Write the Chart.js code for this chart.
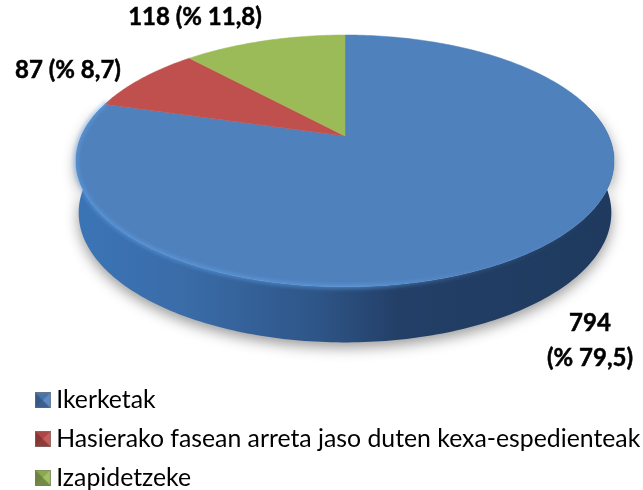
<!DOCTYPE html>
<html>
<head>
<meta charset="utf-8">
<script src="https://cdn.jsdelivr.net/npm/chart.js@4"></script>
<style>
  html, body { margin: 0; background: #fff; overflow: hidden; }
  canvas { display: block; }
</style>
</head>
<body>
<canvas id="chart" width="643" height="490"></canvas>
<script>
const categories = ['Ikerketak', 'Hasierako fasean arreta jaso duten kexa-espedienteak', 'Izapidetzeke']
const values = [794, 87, 118]
const valueLabels = [['794', '(% 79,5)'], ['87 (% 8,7)'], ['118 (% 11,8)']]
const labelCenters = [[590, 323], [68, 70], [195, 17]]
const colors = ['#4f81bd', '#c0504d', '#9bbb59']

// perspektiba: disko unitarioa -> pantaila
const apex = { x: 345, y: 136 }
const persp = { cx: 263.7, cy: 121, k: -0.198 }
const wall = { sx: 0.99, sy: 1.03, dy: 51 }

function project(angle) {
  const u = Math.cos(angle), v = Math.sin(angle)
  const d = 1 + persp.k * v
  return { x: persp.cx * u / d, y: persp.cy * v / d }
}

function topPoint(angle) {
  const p = project(angle)
  return { x: apex.x + p.x, y: apex.y + p.y }
}

function lowPoint(angle) {
  const p = project(angle)
  return { x: apex.x + p.x * wall.sx, y: apex.y + p.y * wall.sy + wall.dy }
}

function traceArc(ctx, from, to, pointFn, first) {
  const steps = Math.max(2, Math.ceil(Math.abs(to - from) * 60))
  for (let i = 0; i <= steps; i++) {
    const p = pointFn(from + (to - from) * i / steps)
    if (i === 0 && first) ctx.moveTo(p.x, p.y)
    else ctx.lineTo(p.x, p.y)
  }
}

function drawWall(ctx) {
  const grad = ctx.createLinearGradient(78, 0, 612, 0)
  grad.addColorStop(0, '#3b74b6')
  grad.addColorStop(0.2, '#3a6ca8')
  grad.addColorStop(0.45, '#2e5587')
  grad.addColorStop(0.6, '#233f67')
  grad.addColorStop(1, '#1f3a5e')

  ctx.save()
  ctx.shadowColor = 'rgba(0,0,0,0.4)'
  ctx.shadowBlur = 14
  ctx.shadowOffsetY = 5
  ctx.fillStyle = grad
  ctx.beginPath()
  traceArc(ctx, -0.25, Math.PI + 0.25, topPoint, true)
  traceArc(ctx, Math.PI + 0.25, -0.25, lowPoint, false)
  ctx.closePath()
  ctx.fill()
  ctx.restore()
}

function drawSlices(ctx, arcs) {
  arcs.forEach((arc, i) => {
    const { startAngle, endAngle } = arc.getProps(['startAngle', 'endAngle'], true)
    ctx.fillStyle = colors[i]
    ctx.strokeStyle = colors[i]
    ctx.lineWidth = 0.5
    ctx.beginPath()
    ctx.moveTo(apex.x, apex.y)
    traceArc(ctx, startAngle, endAngle, topPoint, false)
    ctx.closePath()
    ctx.fill()
    ctx.stroke()
  })
}

function drawRim(ctx) {
  const grad = ctx.createLinearGradient(78, 0, 612, 0)
  grad.addColorStop(0, 'rgba(100,165,235,0.7)')
  grad.addColorStop(0.55, 'rgba(100,165,235,0.75)')
  grad.addColorStop(0.75, 'rgba(90,145,210,0.3)')
  grad.addColorStop(1, 'rgba(90,145,210,0)')

  ctx.save()
  ctx.filter = 'blur(2px)'
  ctx.strokeStyle = grad
  ctx.lineWidth = 3
  ctx.beginPath()
  traceArc(ctx, 0, Math.PI + 0.3, topPoint, true)
  ctx.stroke()
  ctx.restore()
}

const pie3d = {
  id: 'pie3d',
  beforeDatasetsDraw(chart) {
    const ctx = chart.ctx
    const arcs = chart.getDatasetMeta(0).data
    drawWall(ctx)
    drawSlices(ctx, arcs)
    drawRim(ctx)
    return false
  },
  afterDraw(chart) {
    const ctx = chart.ctx
    ctx.save()
    ctx.fillStyle = '#000'
    ctx.strokeStyle = '#000'
    ctx.lineWidth = 0.5
    ctx.font = 'bold 24px Lato'
    ctx.textAlign = 'center'
    ctx.textBaseline = 'middle'
    valueLabels.forEach((lines, i) => {
      lines.forEach((line, j) => {
        ctx.fillText(line, labelCenters[i][0], labelCenters[i][1] + j * 35)
        ctx.strokeText(line, labelCenters[i][0], labelCenters[i][1] + j * 35)
      })
    })
    ctx.restore()
  }
}

// legendako karratu alakatua
function legendBox(color) {
  const size = 16
  const c = document.createElement('canvas')
  c.width = size
  c.height = size
  const g = c.getContext('2d')
  g.fillStyle = color
  g.fillRect(0, 0, size, size)
  const m = size / 2
  const shades = [
    [[0, 0], [size, 0], 'rgba(0,0,0,0.1)'],
    [[0, 0], [0, size], 'rgba(0,0,0,0.3)'],
    [[size, 0], [size, size], 'rgba(255,255,255,0.08)'],
    [[0, size], [size, size], 'rgba(0,0,0,0.25)']
  ]
  shades.forEach(([a, b, fill]) => {
    g.fillStyle = fill
    g.beginPath()
    g.moveTo(a[0], a[1])
    g.lineTo(b[0], b[1])
    g.lineTo(m, m)
    g.closePath()
    g.fill()
  })
  g.strokeStyle = 'rgba(120,120,120,0.6)'
  g.strokeRect(0.5, 0.5, size - 1, size - 1)
  return c
}

new Chart(document.getElementById('chart'), {
  type: 'pie',
  data: {
    labels: categories,
    datasets: [{ data: values, backgroundColor: colors, borderWidth: 0 }]
  },
  options: {
    responsive: false,
    animation: false,
    layout: { padding: { left: 28, bottom: -10 } },
    plugins: {
      tooltip: { enabled: false },
      legend: {
        position: 'bottom',
        align: 'start',
        labels: {
          color: '#000',
          font: { family: 'Lato', size: 24.8 },
          usePointStyle: true,
          boxWidth: 2,
          boxHeight: 16,
          pointStyleWidth: 2,
          padding: 13.8,
          generateLabels: () => categories.map((text, i) => ({
            text,
            fillStyle: colors[i],
            pointStyle: legendBox(colors[i]),
            hidden: false,
            index: i,
            lineWidth: 0
          }))
        }
      }
    }
  },
  plugins: [pie3d]
})
</script>
</body>
</html>
